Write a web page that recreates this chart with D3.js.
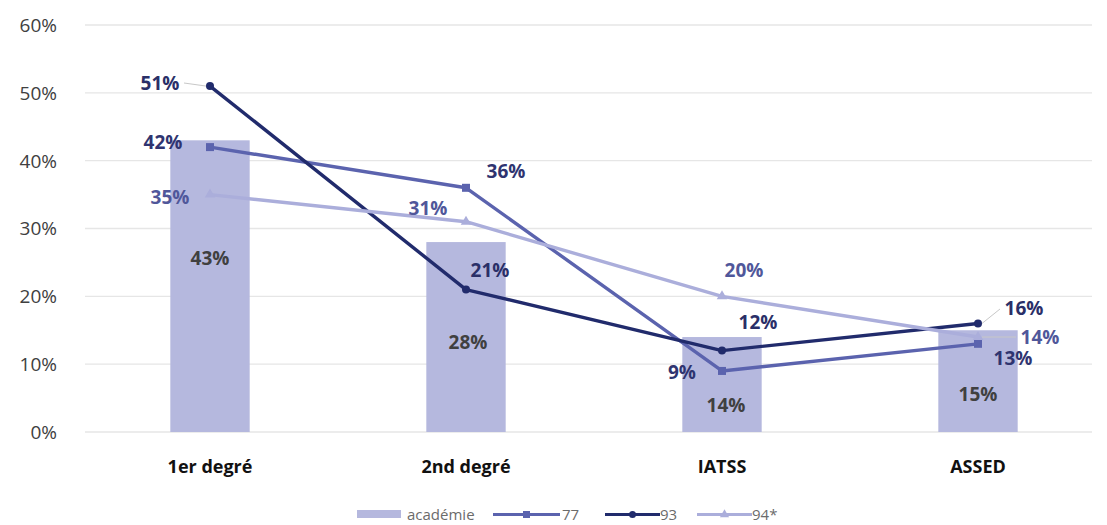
<!DOCTYPE html>
<html><head><meta charset="utf-8">
<script src="https://cdn.jsdelivr.net/npm/d3@7"></script>
<style>body{margin:0;background:#fff;} svg{display:block;}</style>
</head><body>
<svg id="c" width="1107" height="525"></svg>
<script>
const categories = ["1er degré", "2nd degré", "IATSS", "ASSED"];
const academie = [43, 28, 14, 15];
const s77 = [42, 36, 9, 13];
const s93 = [51, 21, 12, 16];
const s94 = [35, 31, 20, 14];
const yTicks = [0, 10, 20, 30, 40, 50, 60];

const svg = d3.select("#c");
const font = "'Open Sans', Lato, sans-serif";
const x = d3.scaleBand().domain(categories).range([82, 1106]).paddingInner(0.69).paddingOuter(0.345);
const y = d3.scaleLinear().domain([0, 60]).range([432, 25]);
const cx = c => x(c) + x.bandwidth() / 2;

// grid
svg.append("g").selectAll("line").data(yTicks).join("line")
  .attr("x1", 85).attr("x2", 1092).attr("y1", d => y(d)).attr("y2", d => y(d))
  .attr("stroke", "#e6e6e6").attr("stroke-width", 1.3);
svg.append("g").selectAll("text").data(yTicks).join("text")
  .attr("x", 57).attr("y", d => y(d)).attr("dy", "0.36em").attr("text-anchor", "end")
  .attr("font-family", font).attr("font-size", 19).attr("fill", "#404040")
  .text(d => d + "%");

// bars
svg.append("g").selectAll("rect").data(academie).join("rect")
  .attr("x", (d, i) => x(categories[i])).attr("width", x.bandwidth())
  .attr("y", d => y(d)).attr("height", d => y(0) - y(d))
  .attr("fill", "#b5b8de");

// category labels
svg.append("g").selectAll("text").data(categories).join("text")
  .attr("x", d => cx(d)).attr("y", 473).attr("text-anchor", "middle")
  .attr("font-family", font).attr("font-weight", 700).attr("font-size", 18).attr("fill", "#111")
  .text(d => d);

const series = [
  {name: "77", vals: s77, color: "#5b63ae", marker: "square", lab: "#2f3470"},
  {name: "93", vals: s93, color: "#212b6c", marker: "circle", lab: "#2a2f68"},
  {name: "94*", vals: s94, color: "#abaedb", marker: "triangle", lab: "#50579a"}
];
const line = d3.line().x((d, i) => cx(categories[i])).y(d => y(d));

function marker(g, type, color, px, py, s) {
  if (type === "circle") g.append("circle").attr("cx", px).attr("cy", py).attr("r", s).attr("fill", color);
  else if (type === "square") g.append("rect").attr("x", px - s).attr("y", py - s).attr("width", 2 * s).attr("height", 2 * s).attr("fill", color);
  else g.append("path").attr("d", d3.symbol(d3.symbolTriangle, s * s * 3)()).attr("transform", `translate(${px},${py})`).attr("fill", color);
}

// leader lines
const leaders = [
  [184, 83, cx(categories[0]) - 4, y(51)],
  [1000, 309, cx(categories[3]) + 4, y(16)],
  [1016, 337, cx(categories[3]) + 4, y(14)]
];
svg.append("g").selectAll("line").data(leaders).join("line")
  .attr("x1", d => d[0]).attr("y1", d => d[1]).attr("x2", d => d[2]).attr("y2", d => d[3])
  .attr("stroke", "#c8c8c8").attr("stroke-width", 1);

series.forEach(s => {
  svg.append("path").datum(s.vals).attr("d", line).attr("fill", "none")
    .attr("stroke", s.color).attr("stroke-width", 3.4).attr("stroke-linejoin", "round");
  const g = svg.append("g");
  s.vals.forEach((v, i) => marker(g, s.marker, s.color, cx(categories[i]), y(v), 4));
});

// data labels (offsets relative to point)
const labelOffsets = {
  "académie": [[0, 118], [2, 100], [4, 68], [0, 64]],
  "77": [[-47, -5], [40, -17], [-40, 1], [35, 14]],
  "93": [[-50, -3], [24, -19], [36, -28], [46, -15]],
  "94*": [[-40, 3], [-38, -14], [22, -26], [62, 0]]
};
const labelG = svg.append("g").attr("font-family", font).attr("font-weight", 700).attr("font-size", 19).attr("text-anchor", "middle");
academie.forEach((v, i) => {
  const o = labelOffsets["académie"][i];
  labelG.append("text").attr("x", cx(categories[i]) + o[0]).attr("y", y(v) + o[1]).attr("dy", "0.36em")
    .attr("fill", "#404040").text(v + "%");
});
series.forEach(s => {
  s.vals.forEach((v, i) => {
    const o = labelOffsets[s.name][i];
    labelG.append("text").attr("x", cx(categories[i]) + o[0]).attr("y", y(v) + o[1]).attr("dy", "0.36em")
      .attr("fill", s.lab).text(v + "%");
  });
});

// legend
const lg = svg.append("g").attr("font-family", font).attr("font-size", 15).attr("fill", "#6b6b6b");
lg.append("rect").attr("x", 357).attr("y", 510).attr("width", 44).attr("height", 8).attr("fill", "#b5b8de");
lg.append("text").attr("x", 407).attr("y", 519.5).text("académie");
const legItems = [
  {s: series[0], x1: 493, x2: 560, tx: 562},
  {s: series[1], x1: 605, x2: 660, tx: 660},
  {s: series[2], x1: 697, x2: 752, tx: 752}
];
legItems.forEach(it => {
  lg.append("line").attr("x1", it.x1).attr("x2", it.x2).attr("y1", 514.5).attr("y2", 514.5)
    .attr("stroke", it.s.color).attr("stroke-width", 3);
  marker(lg, it.s.marker, it.s.color, (it.x1 + it.x2) / 2, 514.5, 3.5);
  lg.append("text").attr("x", it.tx).attr("y", 519.5).text(it.s.name);
});
</script>
</body></html>
